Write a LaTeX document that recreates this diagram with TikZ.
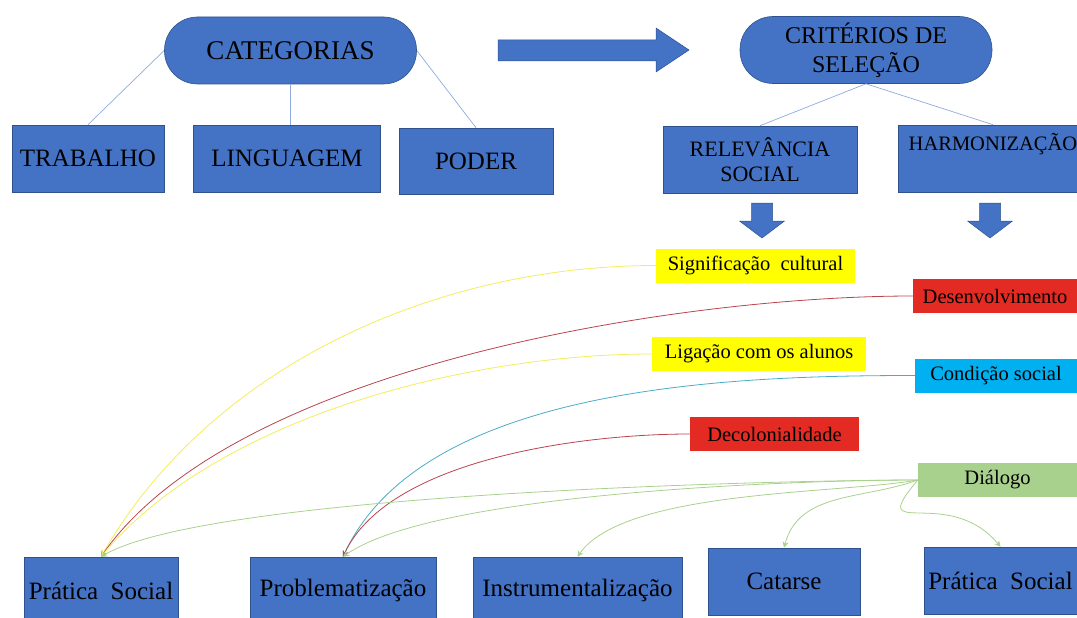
\documentclass[tikz,border=0pt]{standalone}
\usepackage{fontspec}
\setmainfont{Liberation Serif}
\usetikzlibrary{arrows.meta}

\definecolor{boxblue}{HTML}{4472C4}
\definecolor{boxedge}{HTML}{2F528F}
\definecolor{linkgray}{HTML}{8FAADC}
\definecolor{tagyellow}{HTML}{FFFF00}
\definecolor{tagred}{HTML}{E32B24}
\definecolor{tagcyan}{HTML}{00B0F0}
\definecolor{taggreen}{HTML}{A9D18E}
\definecolor{lineyellow}{HTML}{F4EC5A}
\definecolor{linered}{HTML}{B8444C}
\definecolor{linecyan}{HTML}{4BACC6}
\definecolor{linegreen}{HTML}{A9D18E}

\tikzset{
	bluebox/.style={draw=boxedge, fill=boxblue, line width=0.6pt, minimum height=67pt, inner sep=0pt, align=center, font=\fontsize{25}{28}\selectfont},
	roundbox/.style={bluebox, rounded corners=33pt, minimum width=252pt},
	tag/.style={fill=#1, minimum height=34pt, inner sep=0pt, font=\fontsize{20.5}{24}\selectfont},
	link/.style={draw=linkgray, line width=0.7pt},
	feed/.style={draw=#1, line width=0.8pt, -{Stealth[length=6pt,width=6pt]}},
}

\begin{document}
\begin{tikzpicture}[x=1pt,y=1pt]
	\useasboundingbox (0,0) rectangle (1077,-618);

	% categorias e criterios
	\node[roundbox, font=\fontsize{27}{30}\selectfont] (cat) at (290.5,-50.5) {CATEGORIAS};
	\node[roundbox, font=\fontsize{24}{29}\selectfont] (crit) at (866,-50) {CRITÉRIOS DE\\SELEÇÃO};

	\node[bluebox, minimum width=152pt] (trab) at (88,-158.5) {TRABALHO};
	\node[bluebox, minimum width=187pt] (ling) at (287,-158.5) {LINGUAGEM};
	\node[bluebox, minimum width=154pt, minimum height=66pt] (poder) at (476,-161) {PODER};
	\node[bluebox, minimum width=194pt, font=\fontsize{22}{25}\selectfont] (relev) at (760,-159.5) {RELEVÂNCIA\\SOCIAL};
	\node[bluebox, minimum width=190pt, font=\fontsize{20.5}{25}\selectfont] (harm) at (993,-158.5) {HARMONIZAÇÃO\\\strut};

	\draw[link] (cat.west) -- (trab.north);
	\draw[link] (cat.south) -- (cat.south |- ling.north);
	\draw[link] (cat.east) -- (poder.north);
	\draw[link] (crit.south) -- (relev.north);
	\draw[link] (crit.south) -- (harm.north);

	% setas largas
	\filldraw[fill=boxblue, draw=boxedge, line width=0.5pt] (498,-40) -- (656,-40) -- (656,-28) -- (689,-50) -- (656,-72) -- (656,-61) -- (498,-61) -- cycle;
	\foreach \x in {762,990} {\filldraw[fill=boxblue, draw=boxedge, line width=0.5pt] (\x-10.5,-203) -- (\x+10.5,-203) -- (\x+10.5,-221) -- (\x+22.5,-221) -- (\x,-238) -- (\x-22.5,-221) -- (\x-10.5,-221) -- cycle;}

	% etiquetas
	\node[tag=tagyellow, minimum width=199pt] (sig) at (755.5,-265.5) {Significação~ cultural};
	\node[tag=tagred, minimum width=164pt] (des) at (995,-296) {Desenvolvimento};
	\node[tag=tagyellow, minimum width=214pt] (lig) at (759,-354) {Ligação com os alunos};
	\node[tag=tagcyan, minimum width=162pt] (cond) at (996,-375.5) {Condição social};
	\node[tag=tagred, minimum width=169pt] (decol) at (774.5,-434) {Decolonialidade};
	\node[tag=taggreen, minimum width=159pt] (dial) at (997.5,-480) {Diálogo};

	% momentos
	\node[bluebox, minimum width=154pt] (pratA) at (101,-590.5) {Prática~ Social};
	\node[bluebox, minimum width=186pt] (probl) at (343,-590.5) {Problematização};
	\node[bluebox, minimum width=209pt] (instr) at (577.5,-590.5) {Instrumentalização};
	\node[bluebox, minimum width=152pt] (catar) at (784,-581.5) {Catarse};
	\node[bluebox, minimum width=153pt] (pratB) at (1000.5,-580.5) {Prática~ Social};

	\draw[feed=lineyellow] (sig.west) to[out=180,in=60,looseness=0.9] (pratA.north);
	\draw[feed=linered] (des.west) to[out=180,in=55,looseness=0.7] (pratA.north);
	\draw[feed=lineyellow] (lig.west) to[out=180,in=50,looseness=0.8] (pratA.north);
	\draw[feed=linecyan] (cond.west) to[out=180,in=65,looseness=0.8] (probl.north);
	\draw[feed=linered] (decol.west) to[out=180,in=65,looseness=0.75] (probl.north);
	\foreach \t/\o/\i/\l in {pratA/180/30/0.4, probl/180/35/0.5, instr/190/55/0.6, catar/200/75/1, pratB/230/130/2}
		{\draw[feed=linegreen] (dial.west) to[out=\o,in=\i,looseness=\l] (\t.north);}
\end{tikzpicture}
\end{document}
